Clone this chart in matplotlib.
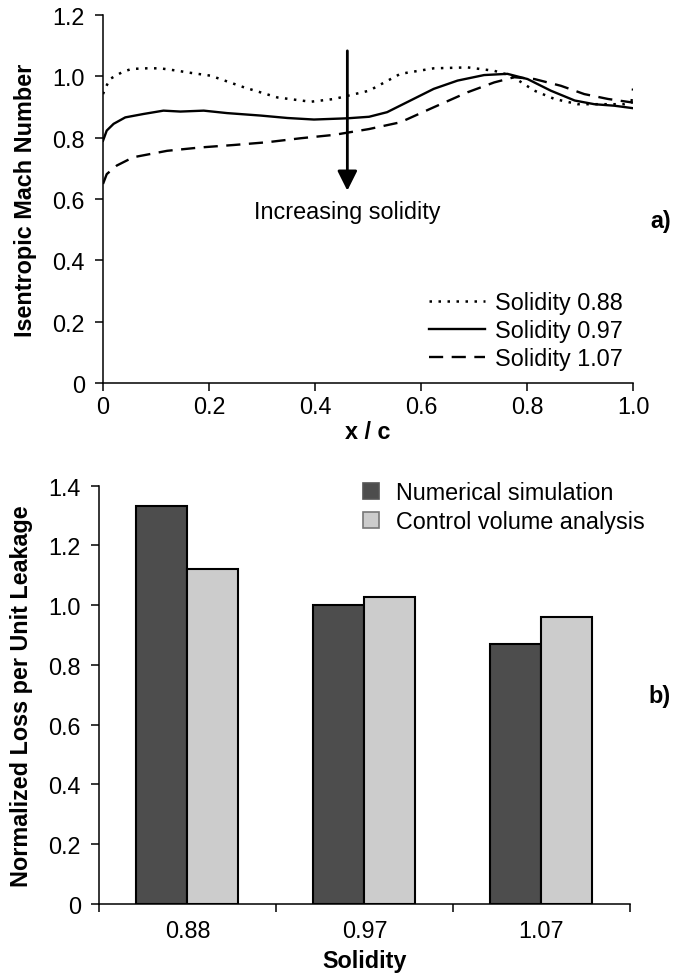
import matplotlib
matplotlib.use("Agg")
import matplotlib.pyplot as plt
from matplotlib.patches import Patch
import numpy as np

plt.rcParams["font.family"] = ["Liberation Sans", "DejaVu Sans"]

# (a) isentropic Mach number along the chord
x_088 = [0.0, 0.006, 0.013, 0.026, 0.038, 0.054, 0.083, 0.108, 0.141, 0.158, 0.203,
         0.266, 0.329, 0.392, 0.436, 0.502, 0.561, 0.624, 0.688, 0.738, 0.770,
         0.814, 0.852, 0.896, 0.940, 0.984, 1.0]
m_088 = [0.942, 0.967, 0.991, 1.004, 1.015, 1.024, 1.026, 1.026, 1.018, 1.013, 1.002,
         0.964, 0.931, 0.917, 0.926, 0.953, 1.008, 1.026, 1.029, 1.018, 1.002,
         0.953, 0.926, 0.909, 0.909, 0.909, 0.915]

x_097 = [0.0, 0.007, 0.020, 0.042, 0.076, 0.114, 0.146, 0.190, 0.234, 0.297, 0.348,
         0.398, 0.461, 0.502, 0.536, 0.580, 0.624, 0.669, 0.719, 0.763, 0.801,
         0.845, 0.890, 0.927, 0.965, 1.0]
m_097 = [0.790, 0.823, 0.845, 0.866, 0.877, 0.888, 0.885, 0.888, 0.880, 0.872, 0.864,
         0.859, 0.863, 0.868, 0.883, 0.921, 0.959, 0.986, 1.004, 1.008, 0.991,
         0.953, 0.921, 0.909, 0.904, 0.896]

x_107 = [0.0, 0.007, 0.026, 0.057, 0.121, 0.184, 0.247, 0.310, 0.373, 0.436, 0.502,
         0.561, 0.624, 0.688, 0.738, 0.776, 0.814, 0.864, 0.908, 0.953, 0.997, 1.0]
m_107 = [0.649, 0.681, 0.709, 0.736, 0.757, 0.768, 0.776, 0.785, 0.798, 0.809, 0.828,
         0.850, 0.899, 0.948, 0.980, 0.997, 0.991, 0.969, 0.942, 0.926, 0.915, 0.960]

# (b) loss per unit leakage
solidity = ["0.88", "0.97", "1.07"]
numerical = [1.331, 1.000, 0.871]
control_volume = [1.121, 1.027, 0.960]

FS = 16.8
DARK = "#4d4d4d"
LIGHT = "#cccccc"

fig = plt.figure(figsize=(6.76, 9.79), dpi=100)


def style_axes(ax):
    for s in ("top", "right"):
        ax.spines[s].set_visible(False)
    for s in ("left", "bottom"):
        ax.spines[s].set_linewidth(1.1)
    ax.tick_params(direction="out", length=6, width=1.1, labelsize=FS, pad=3)
    ax.tick_params(axis="y", pad=7)


# ---- panel a ----
ax1 = fig.add_axes([0.1524, 0.6078, 0.7840, 0.3759])
ax1.plot(x_088, m_088, color="black", lw=1.8, ls=(0, (1, 2.6)), label="Solidity 0.88")
ax1.plot(x_097, m_097, color="black", lw=1.7, ls="-", label="Solidity 0.97")
ax1.plot(x_107, m_107, color="black", lw=1.7, ls=(0, (6, 3.6)), label="Solidity 1.07")
ax1.set_xlim(0, 1.0)
ax1.set_ylim(0, 1.2)
ax1.set_xticks(np.arange(0, 1.01, 0.2))
ax1.set_xticklabels(["0", "0.2", "0.4", "0.6", "0.8", "1.0"])
ax1.set_yticks(np.arange(0, 1.21, 0.2))
ax1.set_yticklabels(["0", "0.2", "0.4", "0.6", "0.8", "1.0", "1.2"])
style_axes(ax1)
ax1.set_xlabel("x / c", fontsize=FS, fontweight="bold")
ax1.set_ylabel("Isentropic Mach Number", fontsize=FS, fontweight="bold")
ax1.xaxis.set_label_coords(0.5, -0.10)
ax1.yaxis.set_label_coords(-0.125, 0.5)

ax1.annotate("", xy=(0.461, 0.627), xytext=(0.461, 1.083),
             arrowprops=dict(arrowstyle="-|>", lw=2, color="black", mutation_scale=30,
                             shrinkA=0, shrinkB=0))
ax1.text(0.461, 0.558, "Increasing solidity", fontsize=FS, ha="center", va="center")

ax1.legend(loc="lower left", bbox_to_anchor=(0.615, 0.035), frameon=False, fontsize=FS,
           handlelength=2.4, handletextpad=0.45, labelspacing=0.22, borderpad=0,
           borderaxespad=0)
fig.text(0.992, 1 - 221.7 / 979, "a)", fontsize=FS, fontweight="bold",
         ha="right", va="center")

# ---- panel b ----
ax2 = fig.add_axes([0.1464, 0.0756, 0.7855, 0.4273])
pos = np.arange(len(solidity))
w = 0.288
ax2.bar(pos - w / 2, numerical, w, color=DARK, edgecolor="black", lw=1.5)
ax2.bar(pos + w / 2, control_volume, w, color=LIGHT, edgecolor="black", lw=1.5)
ax2.set_xlim(-0.5, 2.5)
ax2.set_ylim(0, 1.4)
ax2.set_yticks(np.arange(0, 1.41, 0.2))
ax2.set_yticklabels(["0", "0.2", "0.4", "0.6", "0.8", "1.0", "1.2", "1.4"])
ax2.set_xticks([-0.5, 0.5, 1.5, 2.5])
ax2.set_xticklabels([])
ax2.set_xticks(pos, minor=True)
ax2.set_xticklabels(solidity, minor=True)
style_axes(ax2)
ax2.tick_params(axis="x", which="minor", length=0, pad=11, labelsize=FS)
ax2.set_xlabel("Solidity", fontsize=FS, fontweight="bold")
ax2.set_ylabel("Normalized Loss per Unit Leakage", fontsize=FS, fontweight="bold")
ax2.xaxis.set_label_coords(0.5, -0.108)
ax2.yaxis.set_label_coords(-0.124, 0.5)

handles = [Patch(facecolor=DARK, edgecolor="#555555", lw=1.2),
           Patch(facecolor=LIGHT, edgecolor="#777777", lw=1.2)]
ax2.legend(handles, ["Numerical simulation", "Control volume analysis"],
           loc="upper left", bbox_to_anchor=(0.498, 1.01), frameon=False, fontsize=FS,
           handlelength=0.65, handleheight=0.65, handletextpad=0.75,
           labelspacing=0.25, borderpad=0, borderaxespad=0)
fig.text(0.992, 1 - 697 / 979, "b)", fontsize=FS, fontweight="bold",
         ha="right", va="center")

fig.savefig("out.png", dpi=100)
